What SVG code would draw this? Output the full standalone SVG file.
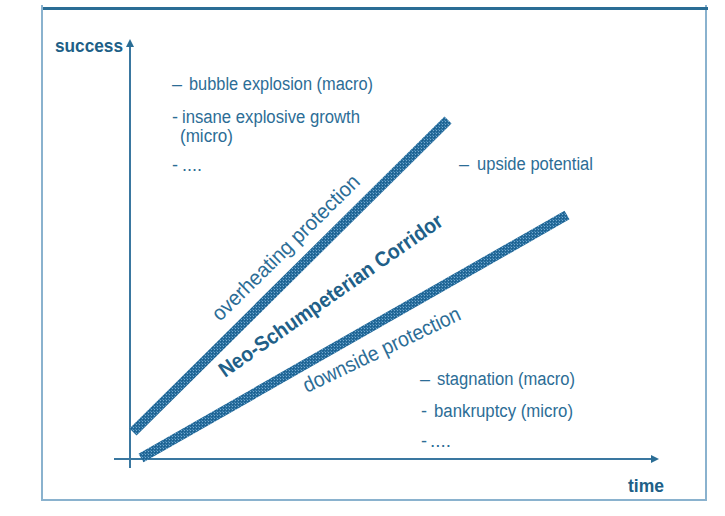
<svg xmlns="http://www.w3.org/2000/svg" width="725" height="516" viewBox="0 0 725 516">
  <defs>
    <style>
      .lbl { font-family: "Liberation Sans", Arial, sans-serif; font-size: 18px; fill: #2c6d96; }
      .axis-title { font-family: "Liberation Sans", Arial, sans-serif; font-size: 19px; font-weight: bold; fill: #205f87; }
      .slant { font-family: "Liberation Sans", Arial, sans-serif; font-size: 21px; fill: #2c6d96; }
      .slant-bold { font-weight: bold; fill: #215f88; }
      .frame-side { stroke: #8ab2ce; stroke-width: 2; fill: none; }
      .frame-top { stroke: #2a6d95; stroke-width: 3; fill: none; }
      .axis { stroke: #3a77a0; stroke-width: 2; fill: none; }
      .band { stroke: url(#mesh); stroke-width: 10; fill: none; }
    </style>
    <!-- fine woven texture for the corridor boundaries -->
    <pattern id="mesh" patternUnits="userSpaceOnUse" width="3" height="3">
      <rect width="3" height="3" fill="#246b9b"/>
      <rect x="1" y="1" width="1" height="1" fill="#78abd0"/>
      <rect x="0" y="0" width="1" height="1" fill="#4a88b5"/>
      <rect x="2" y="2" width="1" height="1" fill="#1d5f8c"/>
    </pattern>
    <marker id="arrow" markerUnits="userSpaceOnUse" markerWidth="9" markerHeight="9" refX="1" refY="4" orient="auto">
      <path d="M0,0 L8,4 L0,8 z" fill="#2a6d95"/>
    </marker>
  </defs>

  <rect width="725" height="516" fill="#ffffff"/>

  <!-- outer frame -->
  <g id="frame">
    <line class="frame-side" x1="42" y1="5" x2="42" y2="500"/>
    <line class="frame-side" x1="41" y1="500" x2="707" y2="500"/>
    <line class="frame-side" x1="706" y1="5" x2="706" y2="500"/>
    <line class="frame-top" x1="43" y1="8.5" x2="708" y2="8.5"/>
  </g>

  <!-- axes -->
  <g id="connectors">
    <line class="axis" x1="130" y1="468" x2="130" y2="46" marker-end="url(#arrow)"/>
    <line class="axis" x1="114" y1="459" x2="652" y2="459" marker-end="url(#arrow)"/>
  </g>

  <!-- corridor boundaries -->
  <g id="bounds">
    <line id="upper-bound" class="band" x1="133" y1="432" x2="448" y2="120"/>
    <line id="lower-bound" class="band" x1="141" y1="458" x2="567" y2="215"/>
  </g>

  <g id="label-success">
    <text class="axis-title" x="55" y="52" textLength="68" lengthAdjust="spacingAndGlyphs">success</text>
  </g>
  <g id="label-time">
    <text class="axis-title" x="628" y="492" textLength="36" lengthAdjust="spacingAndGlyphs">time</text>
  </g>

  <g id="upper-risks">
    <text class="lbl" x="172" y="90">–</text>
    <text class="lbl" x="189" y="90" textLength="184" lengthAdjust="spacingAndGlyphs">bubble explosion (macro)</text>
    <text class="lbl" x="172" y="123">-</text>
    <text class="lbl" x="182" y="123" textLength="178" lengthAdjust="spacingAndGlyphs">insane explosive growth</text>
    <text class="lbl" x="180" y="141.5" textLength="53" lengthAdjust="spacingAndGlyphs">(micro)</text>
    <text class="lbl" x="172" y="171">-</text>
    <text class="lbl" x="182" y="171" textLength="20" lengthAdjust="spacingAndGlyphs">....</text>
  </g>

  <g id="upside">
    <text class="lbl" x="459" y="170">–</text>
    <text class="lbl" x="477" y="170" textLength="116" lengthAdjust="spacingAndGlyphs">upside potential</text>
  </g>

  <g id="lower-risks">
    <text class="lbl" x="420" y="385">–</text>
    <text class="lbl" x="437" y="385" textLength="138" lengthAdjust="spacingAndGlyphs">stagnation (macro)</text>
    <text class="lbl" x="421" y="417">-</text>
    <text class="lbl" x="434" y="417" textLength="139" lengthAdjust="spacingAndGlyphs">bankruptcy (micro)</text>
    <text class="lbl" x="421" y="447">-</text>
    <text class="lbl" x="430" y="447" textLength="21" lengthAdjust="spacingAndGlyphs">....</text>
  </g>

  <g id="overheating">
    <text class="slant" transform="translate(220,322) rotate(-44.5)" textLength="198" lengthAdjust="spacingAndGlyphs">overheating protection</text>
  </g>
  <g id="corridor">
    <text class="slant slant-bold" transform="translate(225,378) rotate(-35)" textLength="268" lengthAdjust="spacingAndGlyphs">Neo-Schumpeterian Corridor</text>
  </g>
  <g id="downside">
    <text class="slant" transform="translate(307,393) rotate(-25.5)" textLength="172" lengthAdjust="spacingAndGlyphs">downside protection</text>
  </g>
</svg>
